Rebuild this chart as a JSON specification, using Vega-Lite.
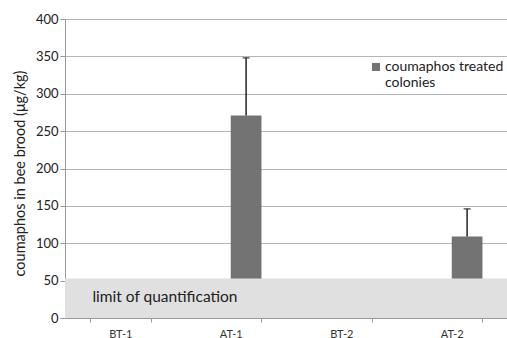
{
  "$schema": "https://vega.github.io/schema/vega-lite/v6.json",
  "width": 442,
  "height": 299,
  "autosize": "none",
  "padding": {"left": 65, "top": 19, "right": 0, "bottom": 20},
  "background": "white",
  "config": {
    "font": "Lato",
    "view": {"stroke": null},
    "axisY": {
      "values": [0, 50, 100, 150, 200, 250, 300, 350, 400],
      "labelOverlap": false,
      "titleFontSize": 14.5, "titleFontWeight": "normal", "titleColor": "#222", "titlePadding": 8, "titleY": 154,
      "labelFontSize": 13, "labelColor": "#222", "labelPadding": 2,
      "domainColor": "#999", "tickColor": "#999", "tickSize": 5,
      "grid": true, "gridColor": "#b5b5b5", "gridWidth": 1
    }
  },
  "datasets": {
    "bars": [
      {"sample": "AT-1", "series": "coumaphos treated colonies", "value": 271, "upper": 348},
      {"sample": "AT-2", "series": "coumaphos treated colonies", "value": 109, "upper": 146}
    ],
    "loq": [
      {"label": "limit of quantification", "low": 0, "high": 53, "pos": 28, "left": 0, "right": 1, "textx": 0.062}
    ]
  },
  "layer": [
    {
      "data": {"name": "bars"},
      "layer": [
        {
          "mark": {"type": "bar", "color": "#737373"},
          "encoding": {
            "x": {
              "field": "sample", "type": "nominal",
              "scale": {"domain": ["BT-1", "AT-1", "BT-2", "AT-2"], "paddingInner": 0.444, "paddingOuter": 0.222},
              "axis": {
                "title": null, "labelAngle": 0, "labelFontSize": 11, "labelColor": "#333",
                "domainColor": "#999", "tickColor": "#999", "tickSize": 4, "tickBand": "extent",
                "labelPadding": 6, "grid": false
              }
            },
            "xOffset": {
              "field": "series", "type": "nominal",
              "scale": {"domain": ["other", "coumaphos treated colonies"], "paddingInner": 0, "paddingOuter": 0}
            },
            "y": {
              "field": "value", "type": "quantitative",
              "scale": {"domain": [0, 400], "nice": false},
              "axis": {
                "values": [0, 50, 100, 150, 200, 250, 300, 350, 400],
                "tickCount": 9,
                "title": "coumaphos in bee brood (μg/kg)"
              }
            },
            "color": {
              "field": "series", "type": "nominal",
              "scale": {"domain": ["coumaphos treated colonies"], "range": ["#737373"]},
              "legend": {
                "orient": "none", "legendX": 304, "legendY": 41, "title": null,
                "symbolType": "square", "symbolSize": 64, "symbolStrokeWidth": 0,
                "labelFontSize": 14, "labelColor": "#222", "labelOffset": 2,
                "labelExpr": "['coumaphos treated', 'colonies']"
              }
            }
          }
        },
        {
          "mark": {"type": "rule", "color": "#222", "strokeWidth": 1.5},
          "encoding": {
            "x": {"field": "sample", "type": "nominal"},
            "xOffset": {"field": "series", "type": "nominal"},
            "y": {"field": "value", "type": "quantitative", "axis": {"values": [0, 50, 100, 150, 200, 250, 300, 350, 400], "title": "coumaphos in bee brood (μg/kg)"}},
            "y2": {"field": "upper"}
          }
        },
        {
          "mark": {"type": "tick", "color": "#222", "size": 7, "thickness": 1.5, "orient": "horizontal"},
          "encoding": {
            "x": {"field": "sample", "type": "nominal"},
            "xOffset": {"field": "series", "type": "nominal"},
            "y": {"field": "upper", "type": "quantitative", "axis": {"values": [0, 50, 100, 150, 200, 250, 300, 350, 400], "title": "coumaphos in bee brood (μg/kg)"}}
          }
        }
      ]
    },
    {
      "data": {"name": "loq"},
      "layer": [
        {
          "mark": {"type": "rect", "color": "#e0e0e0"},
          "encoding": {
            "x": {"field": "left", "type": "quantitative", "scale": {"domain": [0, 1], "nice": false, "zero": false}, "axis": null},
            "x2": {"field": "right"},
            "y": {"field": "low", "type": "quantitative", "axis": {"values": [0, 50, 100, 150, 200, 250, 300, 350, 400], "title": "coumaphos in bee brood (μg/kg)"}},
            "y2": {"field": "high"}
          }
        },
        {
          "mark": {"type": "text", "fontSize": 15.5, "color": "#222", "align": "left", "baseline": "middle"},
          "encoding": {
            "x": {"field": "textx", "type": "quantitative"},
            "y": {"field": "pos", "type": "quantitative", "axis": {"values": [0, 50, 100, 150, 200, 250, 300, 350, 400], "title": "coumaphos in bee brood (μg/kg)"}},
            "text": {"field": "label"}
          }
        }
      ]
    }
  ],
  "resolve": {"scale": {"x": "independent"}}
}
